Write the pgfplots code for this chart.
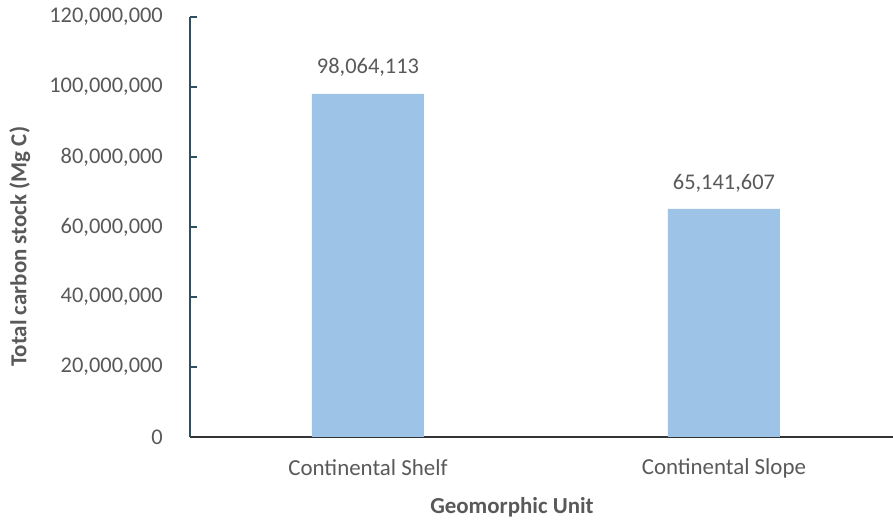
\documentclass[border=0pt]{standalone}
\usepackage{pgfplots}
\pgfplotsset{compat=1.18}
\usepackage{fontspec}
\setmainfont{Carlito}
\definecolor{barblue}{HTML}{9DC3E6}
\definecolor{txtgray}{HTML}{595959}
\definecolor{yaxcol}{HTML}{2F4F5F}
\definecolor{xaxcol}{HTML}{333333}
\begin{document}
\begin{tikzpicture}[x=1bp,y=1bp]
\useasboundingbox (0,0) rectangle (893,525);
\begin{axis}[
  at={(190bp,88bp)}, anchor=south west,
  scale only axis,
  width=703bp, height=420bp,
  xmin=-0.5, xmax=1.475,
  ymin=0, ymax=120000000,
  ytick={0,20000000,40000000,60000000,80000000,100000000,120000000},
  xtick={0,1},
  xticklabels={Continental Shelf, Continental Slope},
  ybar, bar width=112bp,
  axis x line*=bottom, axis y line*=left,
  x axis line style={xaxcol, line width=1.2pt, -},
  y axis line style={yaxcol, line width=1.2pt, -},
  major tick length=7bp,
  ytick style={yaxcol, line width=1.2pt},
  tick align=inside,
  xtick style={draw=none},
  scaled y ticks=false,
  /pgf/number format/assume math mode=true,
  /pgf/number format/.cd, fixed, 1000 sep={,},
  /pgfplots/.cd,
  every tick label/.append style={font=\fontsize{22.5}{27}\selectfont, text=txtgray},
  yticklabel style={anchor=east, inner sep=0pt, xshift=-27bp},
  xticklabel style={font=\fontsize{23}{27}\selectfont, anchor=center, inner sep=0pt, yshift=-31bp},
  xlabel={Geomorphic Unit},
  ylabel={Total carbon stock (Mg C)},
  label style={font=\fontsize{23}{27}\selectfont\bfseries, text=txtgray},
  xlabel style={at={(axis description cs:0.458,-0.167)}, anchor=center},
  ylabel style={at={(axis description cs:-0.242,0.453)}, anchor=center},
  nodes near coords,
  every node near coord/.append style={font=\fontsize{22.5}{27}\selectfont, text=txtgray, anchor=center, inner sep=0pt, yshift=26bp},
]
\addplot[fill=barblue, draw=none] coordinates {(0,98064113) (1,65141607)};
\end{axis}
\end{tikzpicture}
\end{document}
